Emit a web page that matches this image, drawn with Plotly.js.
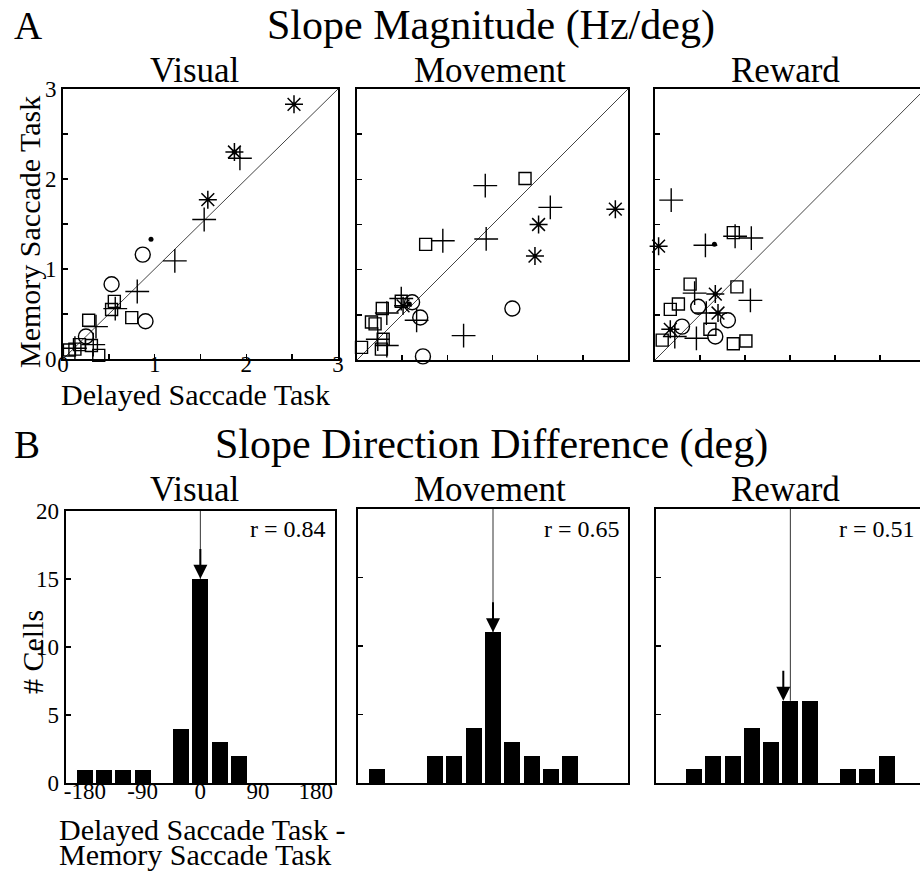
<!DOCTYPE html>
<html>
<head>
<meta charset="utf-8">
<script src="https://cdn.plot.ly/plotly-3.0.1.min.js"></script>
<style>html,body{margin:0;padding:0;background:#fff;}#chart{width:920px;height:871px;}</style>
</head>
<body>
<div id="chart"></div>
<script>
// ---------- Panel A data (slope magnitude, Hz/deg) ----------
// Visual cells
const visPlusX = [1.93, 1.54, 1.22, 0.81, 0.57, 0.36, 0.13, 0.33];
const visPlusY = [2.23, 1.55, 1.09, 0.75, 0.56, 0.36, 0.12, 0.16];
const visAstX = [2.52, 1.87, 1.58];
const visAstY = [2.83, 2.30, 1.77];
const visCircX = [0.87, 0.53, 0.90, 0.25];
const visCircY = [1.16, 0.83, 0.42, 0.25];
const visSqX = [0.56, 0.53, 0.75, 0.28, 0.13, 0.18, 0.31, 0.39, 0.07];
const visSqY = [0.64, 0.55, 0.46, 0.43, 0.11, 0.16, 0.15, 0.04, 0.10];
const visDotX = [0.96, 1.87];
const visDotY = [1.33, 2.30];
// Movement cells
const movPlusX = [1.42, 2.14, 1.43, 0.95, 0.49, 0.33, 0.66, 1.18, 0.33, 0.23];
const movPlusY = [1.93, 1.69, 1.34, 1.32, 0.68, 0.52, 0.44, 0.27, 0.16, 0.23];
const movAstX = [2.86, 2.01, 1.97, 0.51];
const movAstY = [1.67, 1.50, 1.15, 0.60];
const movCircX = [0.61, 0.70, 1.72, 0.73];
const movCircY = [0.64, 0.47, 0.57, 0.04];
const movSqX = [1.86, 0.76, 0.49, 0.28, 0.16, 0.20, 0.29, 0.27, 0.05];
const movSqY = [2.01, 1.28, 0.65, 0.57, 0.42, 0.40, 0.23, 0.12, 0.14];
const movDotX = [0.58];
const movDotY = [0.62];
// Reward cells
const rewPlusX = [0.18, 0.56, 0.89, 1.07, 1.06, 0.44, 0.57, 0.46, 0.22];
const rewPlusY = [1.77, 1.27, 1.37, 1.35, 0.66, 0.74, 0.52, 0.24, 0.26];
const rewAstX = [0.04, 0.67, 0.70, 0.17];
const rewAstY = [1.26, 0.73, 0.52, 0.34];
const rewCircX = [0.48, 0.81, 0.30, 0.67];
const rewCircY = [0.59, 0.44, 0.37, 0.26];
const rewSqX = [0.87, 0.39, 0.91, 0.26, 0.17, 0.61, 0.08, 0.87, 1.01];
const rewSqY = [1.41, 0.84, 0.81, 0.62, 0.56, 0.34, 0.22, 0.18, 0.21];
const rewDotX = [0.66, 0.67, 0.70, 0.17];
const rewDotY = [1.28, 0.73, 0.52, 0.34];
const unityLine = [0, 3];

// ---------- Panel B data (slope direction difference, deg) ----------
const binCenters = [-180, -150, -120, -90, -60, -30, 0, 30, 60, 90, 120, 150, 180];
const visCounts = [1, 1, 1, 1, 0, 4, 15, 3, 2, 0, 0, 0, 0];
const movCounts = [1, 0, 0, 2, 2, 4, 11, 3, 2, 1, 2, 0, 0];
const rewCounts = [0, 1, 2, 2, 4, 3, 6, 6, 0, 1, 1, 2, 0];
const meanDiff = [0, 0, -11];
const rLabels = ['r = 0.84', 'r = 0.65', 'r = 0.51'];
const histTickVals = [-180, -90, 0, 90, 180];
const histTickText = ['-180', '-90', '0', '90', '180'];
const countTicks = [0, 5, 10, 15, 20];
const magTickVals = [0, 0.5, 1, 1.5, 2, 2.5, 3];
const magTickText = ['0', '', '1', '', '2', '', '3'];

const FONT = 'Liberation Serif';
const W = 920, H = 871;
const px = x => x / W;
const py = y => 1 - y / H;

const traces = [];
function scatterPanel(xa, ya, P) {
  const mk = (x, y, symbol, size, lw) => ({
    type: 'scatter', mode: 'markers', x: x, y: y, xaxis: xa, yaxis: ya,
    cliponaxis: false, hoverinfo: 'skip', showlegend: false,
    marker: {symbol: symbol, size: size, color: 'black', line: {color: 'black', width: lw}}
  });
  traces.push({type: 'scatter', mode: 'lines', x: unityLine, y: unityLine, xaxis: xa, yaxis: ya,
    line: {color: '#444', width: 1}, showlegend: false, hoverinfo: 'skip', cliponaxis: true});
  traces.push(mk(P.sqx, P.sqy, 'square-open', 12, 1.4));
  traces.push(mk(P.cx, P.cy, 'circle-open', 15, 1.4));
  traces.push(mk(P.px, P.py, 'cross-thin', 17, 1.4));
  traces.push(mk(P.ax, P.ay, 'asterisk', 15, 1.5));
  traces.push(mk(P.dx, P.dy, 'circle', 5, 0));
}
scatterPanel('x', 'y', {px: visPlusX, py: visPlusY, ax: visAstX, ay: visAstY, cx: visCircX, cy: visCircY, sqx: visSqX, sqy: visSqY, dx: visDotX, dy: visDotY});
scatterPanel('x2', 'y2', {px: movPlusX, py: movPlusY, ax: movAstX, ay: movAstY, cx: movCircX, cy: movCircY, sqx: movSqX, sqy: movSqY, dx: movDotX, dy: movDotY});
scatterPanel('x3', 'y3', {px: rewPlusX, py: rewPlusY, ax: rewAstX, ay: rewAstY, cx: rewCircX, cy: rewCircY, sqx: rewSqX, sqy: rewSqY, dx: rewDotX, dy: rewDotY});

const histSets = [
  {counts: visCounts, xa: 'x4', ya: 'y4'},
  {counts: movCounts, xa: 'x5', ya: 'y5'},
  {counts: rewCounts, xa: 'x6', ya: 'y6'}
];
const annotations = [];
histSets.forEach((h, i) => {
  traces.push({type: 'bar', x: binCenters, y: h.counts, xaxis: h.xa, yaxis: h.ya, width: 25,
    marker: {color: 'black', line: {width: 0}}, showlegend: false, hoverinfo: 'skip'});
  const zeroCount = h.counts[binCenters.indexOf(0)];
  traces.push({type: 'scatter', mode: 'lines', x: [0, 0], y: [20, zeroCount], xaxis: h.xa, yaxis: h.ya,
    line: {color: '#333', width: 1}, showlegend: false, hoverinfo: 'skip'});
  annotations.push({x: meanDiff[i], y: zeroCount, ax: meanDiff[i], ay: zeroCount + 2.3,
    xref: h.xa, yref: h.ya, axref: h.xa, ayref: h.ya, text: '', showarrow: true,
    arrowhead: 2, arrowsize: 1.4, arrowwidth: 2, arrowcolor: 'black'});
});

const rX = [328, 622, 917];
rLabels.forEach((t, i) => annotations.push({text: t, xref: 'paper', yref: 'paper', x: px(rX[i]), y: py(529),
  xanchor: 'right', yanchor: 'middle', showarrow: false, font: {family: FONT, size: 24, color: 'black'}}));

function label(text, x, y, size, opts) {
  annotations.push(Object.assign({text: text, xref: 'paper', yref: 'paper', x: px(x), y: py(y),
    xanchor: 'center', yanchor: 'middle', showarrow: false, font: {family: FONT, size: size, color: 'black'}}, opts || {}));
}
label('A', 12, 26, 39, {xanchor: 'left'});
label('Slope Magnitude (Hz/deg)', 491, 26, 42);
label('Visual', 195, 71, 35);
label('Movement', 490, 71, 35);
label('Reward', 785, 71, 35);
label('B', 12, 444, 39, {xanchor: 'left'});
label('Slope Direction Difference (deg)', 491, 444, 42);
label('Visual', 195, 489, 35);
label('Movement', 490, 489, 35);
label('Reward', 785, 489, 35);
label('Memory Saccade Task', 30, 232, 30, {textangle: -90});
label('Delayed Saccade Task', 195, 395, 30);
label('# Cells', 32, 652, 30, {textangle: -90});
label('Delayed Saccade Task -', 57, 829, 30, {xanchor: 'left'});
label('Memory Saccade Task', 57, 854, 30, {xanchor: 'left'});

const axBase = {showgrid: false, zeroline: false, showline: true, linecolor: 'black', linewidth: 2,
  ticks: 'inside', ticklen: 5, tickwidth: 1.5, tickcolor: 'black', fixedrange: true,
  tickfont: {family: FONT, size: 23, color: 'black'}};
const magX = (dom, rng, labels) => Object.assign({}, axBase, {domain: dom, range: rng, mirror: true,
  tickmode: 'array', tickvals: magTickVals, ticktext: magTickText, showticklabels: labels, ticklabelstandoff: -17});
const magY = (dom, labels, mirror) => Object.assign({}, axBase, {domain: dom, range: [0, 3], mirror: mirror,
  tickmode: 'array', tickvals: magTickVals, ticktext: magTickText, showticklabels: labels});
const histX = (dom, rng, labels) => Object.assign({}, axBase, {domain: dom, range: rng, mirror: true, ticks: '',
  tickmode: 'array', tickvals: histTickVals, ticktext: histTickText, showticklabels: labels, ticklabelstandoff: -14});
const histY = (dom, labels, mirror) => Object.assign({}, axBase, {domain: dom, range: [0, 20], mirror: mirror,
  tickmode: 'array', tickvals: countTicks, showticklabels: labels});

const layout = {
  width: W, height: H, margin: {l: 0, r: 0, t: 0, b: 0}, paper_bgcolor: 'white', plot_bgcolor: 'white',
  showlegend: false, bargap: 0,
  font: {family: FONT, color: 'black'},
  xaxis: magX([px(63), px(338)], [0, 3], true),
  yaxis: magY([py(359), py(89)], true, true),
  xaxis2: magX([px(357), px(628)], [0, 3], false),
  yaxis2: magY([py(360), py(89)], false, true),
  xaxis3: magX([px(655), 1], [0, 2.944], false),
  yaxis3: magY([py(360), py(89)], false, false),
  xaxis4: histX([px(65.7), px(335)], [-210, 210], true),
  yaxis4: histY([py(783.3), py(510.7)], true, true),
  xaxis5: histX([px(358), px(628)], [-210, 210], false),
  yaxis5: histY([py(783), py(509)], false, true),
  xaxis6: histX([px(655.7), 1], [-210, 202.2], false),
  yaxis6: histY([py(783), py(509)], false, false),
  annotations: annotations
};
['xaxis4', 'xaxis5', 'xaxis6'].forEach(k => layout[k].anchor = 'y' + k.slice(-1));
['yaxis4', 'yaxis5', 'yaxis6'].forEach(k => layout[k].anchor = 'x' + k.slice(-1));
['xaxis2', 'xaxis3'].forEach(k => layout[k].anchor = 'y' + k.slice(-1));
['yaxis2', 'yaxis3'].forEach(k => layout[k].anchor = 'x' + k.slice(-1));

Plotly.newPlot('chart', traces, layout, {staticPlot: true, displayModeBar: false});
</script>
</body>
</html>
